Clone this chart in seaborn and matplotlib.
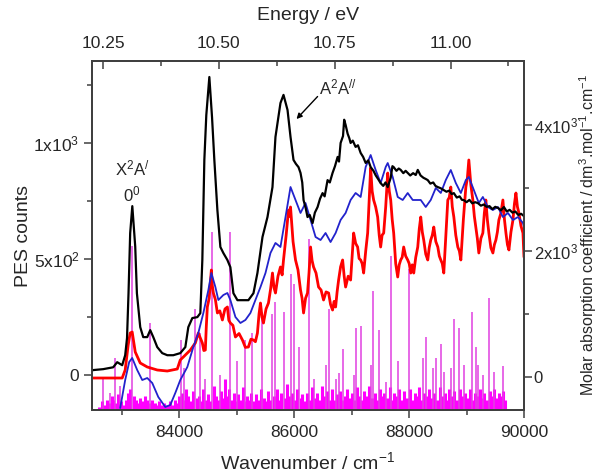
import matplotlib
matplotlib.use("Agg")
import matplotlib.pyplot as plt
import seaborn as sns
import pandas as pd

# Photoelectron spectrum (left axis, counts)
pes_wn = [82483, 82500, 82675, 82849, 82919, 83006, 83058, 83090, 83116, 83145, 83182, 83233, 83262,
          83320, 83372, 83442, 83494, 83547, 83616, 83703, 83791, 83895, 84017, 84105, 84157, 84227,
          84314, 84366, 84401, 84436, 84470, 84523, 84570, 84610, 84663, 84715, 84767, 84837, 84889,
          84942, 85012, 85099, 85203, 85291, 85360, 85448, 85535, 85622, 85674, 85761, 85814, 85884,
          85936, 85988, 86030, 86075, 86110, 86140, 86163, 86200, 86232, 86270, 86320, 86360, 86407,
          86450, 86494, 86530, 86581, 86620, 86668, 86710, 86756, 86780, 86808, 86850, 86870, 86895,
          86930, 86960, 86982, 87020, 87069, 87110, 87157, 87200, 87244, 87290, 87331, 87380, 87420,
          87460, 87505, 87550, 87590, 87628, 87680, 87710, 87732, 87780, 87820, 87854, 87900, 87940,
          87976, 88020, 88070, 88116, 88151, 88200, 88250, 88290, 88325, 88370, 88420, 88460, 88500,
          88550, 88604, 88650, 88700, 88740, 88779, 88830, 88880, 88920, 88953, 89000, 89050, 89100,
          89150, 89197, 89250, 89300, 89350, 89400, 89450, 89500, 89550, 89600, 89651, 89700, 89750,
          89800, 89850, 89900, 89950, 90000]
pes_counts = [20, 22, 26, 34, 56, 43, 86, 160, 353, 612, 728, 553, 353,
              207, 164, 164, 194, 164, 121, 95, 86, 86, 95, 121, 207, 246,
              250, 267, 496, 927, 1120, 1284, 1110, 927, 711, 552, 526, 496, 465,
              353, 323, 323, 323, 353, 440, 595, 681, 810, 1026, 1172, 1207, 1142,
              1026, 927, 910, 896, 871, 830, 754, 720, 681, 690, 655, 700, 724,
              760, 784, 770, 840, 830, 871, 900, 940, 920, 1000, 1030, 1100, 1078,
              1040, 1020, 1000, 1010, 983, 990, 957, 940, 914, 925, 896, 880, 860,
              845, 827, 815, 830, 810, 850, 900, 896, 880, 890, 884, 870, 880,
              871, 860, 870, 862, 884, 860, 850, 845, 840, 825, 830, 815, 810,
              805, 797, 790, 795, 780, 784, 765, 770, 755, 754, 745, 755, 740,
              745, 741, 730, 735, 725, 728, 715, 725, 720, 710, 724, 705, 712,
              700, 705, 690, 695, 685]

# Measured absorption spectrum (right axis)
abs_wn = [82483, 83006, 83058, 83110, 83145, 83180, 83233, 83320, 83442, 83616, 83791, 83965, 84017,
          84070, 84192, 84279, 84331, 84401, 84427, 84453, 84470, 84488, 84520, 84558, 84575, 84593,
          84628, 84663, 84705, 84750, 84795, 84837, 84862, 84889, 84933, 84977, 85040, 85099, 85150,
          85203, 85247, 85291, 85325, 85360, 85388, 85413, 85440, 85465, 85510, 85552, 85590, 85622,
          85648, 85674, 85718, 85761, 85790, 85814, 85860, 85901, 85918, 85936, 85980, 86023, 86066,
          86110, 86137, 86163, 86198, 86232, 86258, 86285, 86311, 86337, 86380, 86424, 86468, 86511,
          86555, 86599, 86633, 86668, 86695, 86721, 86747, 86773, 86808, 86843, 86870, 86895, 86940,
          86982, 87008, 87035, 87070, 87104, 87130, 87157, 87183, 87209, 87245, 87279, 87305, 87331,
          87357, 87383, 87418, 87453, 87480, 87505, 87530, 87558, 87593, 87628, 87655, 87680, 87706,
          87732, 87767, 87802, 87828, 87854, 87880, 87906, 87940, 87976, 88002, 88029, 88055, 88081,
          88116, 88151, 88177, 88203, 88230, 88255, 88290, 88325, 88350, 88377, 88404, 88430, 88465,
          88500, 88526, 88552, 88578, 88604, 88640, 88674, 88700, 88726, 88752, 88779, 88813, 88848,
          88875, 88901, 88945, 88988, 89014, 89040, 89075, 89110, 89136, 89162, 89188, 89214, 89250,
          89284, 89310, 89336, 89362, 89389, 89424, 89459, 89485, 89511, 89537, 89563, 89598, 89633,
          89660, 89686, 89712, 89738, 89773, 89808, 89834, 89860, 89886, 89912, 89947, 89982, 90000]
abs_eps = [-16, -16, 111, 508, 698, 714, 397, 222, 159, 111, 95, 127, 270,
           317, 428, 540, 698, 540, 420, 428, 800, 1111, 1250, 1698, 1450, 1333,
           1230, 1016, 1050, 905, 1080, 1111, 900, 857, 820, 635, 690, 587, 470,
           476, 600, 587, 560, 698, 1000, 1174, 950, 857, 1080, 1174, 1400, 1650,
           1420, 1333, 1600, 1746, 1620, 1857, 2250, 2650, 2550, 2698, 2150, 1857, 1700,
           1381, 1250, 1016, 1250, 1333, 1650, 2063, 1850, 1746, 1650, 1428, 1380, 1222,
           1350, 1333, 1150, 1063, 1200, 1111, 1350, 1539, 1750, 1857, 1600, 1428, 1600,
           1539, 1900, 2285, 2120, 2063, 1880, 1857, 1800, 1650, 2000, 2285, 2800, 3317,
           2950, 2809, 2700, 2539, 2250, 2063, 2250, 2285, 2700, 3237, 2950, 2809, 2500,
           2285, 1800, 1587, 1780, 1857, 1900, 2063, 1920, 1857, 1800, 1650, 1780, 1650,
           1900, 2063, 2350, 2539, 2300, 2174, 1950, 1857, 2050, 2174, 2250, 2380, 2150,
           2063, 1920, 1857, 1800, 1650, 2250, 2809, 2850, 3015, 2700, 2539, 2250, 2063,
           2000, 1857, 2500, 3015, 3150, 3444, 3050, 2809, 2550, 2380, 2200, 1968, 2200,
           2285, 2600, 2809, 2500, 2285, 2050, 1968, 2100, 2174, 2300, 2492, 2600, 2809,
           2500, 2285, 2100, 2016, 2300, 2492, 2750, 2920, 2700, 2603, 2400, 2285, 1904]

# Simulated absorption envelope (right axis)
sim_wn = [82971, 83058, 83128, 83180, 83267, 83355, 83442, 83529, 83634, 83756, 83843, 83930, 84017,
          84140, 84244, 84331, 84419, 84506, 84558, 84628, 84680, 84767, 84837, 84889, 84977, 85064,
          85151, 85238, 85325, 85413, 85500, 85587, 85674, 85761, 85849, 85936, 86023, 86110, 86197,
          86285, 86372, 86459, 86546, 86633, 86721, 86808, 86895, 86982, 87069, 87157, 87244, 87331,
          87418, 87505, 87593, 87628, 87715, 87802, 87889, 87976, 88063, 88203, 88290, 88377, 88465,
          88552, 88639, 88726, 88813, 88901, 88988, 89040, 89127, 89214, 89284, 89371, 89459, 89546,
          89633, 89721, 89808, 89895, 89982, 90000]
sim_eps = [-492, -48, 238, 302, 111, -48, -16, -95, -317, -476, -444, -254, -48,
           159, 476, 698, 1016, 1381, 1650, 1428, 1222, 1301, 1333, 1222, 952, 857,
           905, 1016, 1222, 1428, 1650, 1968, 2127, 2063, 2539, 3015, 2809, 2603, 2761,
           2492, 2222, 2174, 2285, 2142, 2285, 2492, 2603, 2809, 2920, 2857, 3333, 3523,
           3285, 3079, 3333, 3396, 3174, 2857, 2809, 2920, 2809, 2809, 2698, 2809, 3000,
           2920, 3126, 3285, 3079, 2920, 3126, 3174, 2968, 2761, 2857, 2698, 2650, 2698,
           2539, 2603, 2492, 2539, 2444, 2380]

# Franck-Condon stick spectrum: strong transitions (relative intensity)
stick_wn = [82675, 82790, 82884, 82960, 83180, 83494, 84030, 84090, 84270, 84366, 84450, 84576,
            84700, 84880, 85012, 85151, 85273, 85448, 85622, 85674, 85814, 85936, 85988, 86085,
            86260, 86337, 86546, 86599, 86721, 86773, 86843, 87035, 87070, 87157, 87331, 87366,
            87471, 87593, 87680, 87802, 87994, 88238, 88290, 88412, 88465, 88552, 88604, 88726,
            88779, 88866, 88953, 89092, 89162, 89197, 89284, 89389, 89476, 89633]
stick_int = [9, 5, 15, 7, 47, 25, 20, 12, 29, 22, 9, 51,
             10, 51, 14, 20, 22, 28, 27.5, 31, 28, 39, 36, 18,
             49, 9, 13, 29, 9, 10.6, 17.5, 10, 23.6, 24, 13, 34,
             23, 8, 44, 14, 40.5, 15, 21, 12, 15, 19, 11, 12,
             26, 23.5, 13, 28, 18, 13, 10, 32, 11, 12.6]

# Franck-Condon stick spectrum: weak transitions
weak_wn = [82610, 82650, 82700, 82740, 82780, 82820, 82850, 82900, 82940, 82980, 83020, 83080,
           83110, 83150, 83210, 83250, 83280, 83320, 83360, 83400, 83440, 83470, 83530, 83570,
           83610, 83650, 83700, 83740, 83790, 83830, 83880, 83920, 83960, 84000,
           84040, 84080, 84120, 84160, 84200, 84230, 84300, 84340, 84380, 84420, 84460, 84500,
           84540, 84610, 84640, 84680, 84720, 84760, 84790, 84830, 84860, 84920, 84950, 84990,
           85030, 85070, 85110, 85140, 85180, 85220, 85250, 85300, 85330, 85390, 85420, 85480,
           85510, 85550, 85580, 85650, 85700, 85730, 85770, 85840, 85870, 85910, 85960, 86010,
           86050, 86110, 86140, 86180, 86220, 86270, 86310, 86360, 86400, 86440, 86480, 86520,
           86570, 86620, 86650, 86690, 86740, 86800, 86830, 86880, 86920, 86960, 87000, 87050,
           87090, 87130, 87180, 87220, 87260, 87300, 87350, 87400, 87440, 87490, 87530, 87570,
           87620, 87660, 87700, 87740, 87780, 87830, 87870, 87920, 87960, 88010, 88060, 88100,
           88140, 88180, 88220, 88260, 88310, 88350, 88400, 88440, 88490, 88530, 88580, 88620,
           88660, 88700, 88750, 88790, 88830, 88880, 88920, 88970, 89010, 89060, 89100, 89140,
           89190, 89230, 89270, 89310, 89350, 89400, 89440, 89480, 89520, 89560, 89600, 89640,
           89670]
weak_int = [1.0, 2.5, 1.5, 3.0, 2.0, 4.0, 3.0, 2.0, 4.5, 2.5, 1.5, 3.0,
            5.0, 6.0, 4.0, 3.0, 2.0, 3.5, 2.5, 4.0, 3.0, 2.0, 3.0, 2.0,
            1.5, 2.5, 1.5, 2.0, 1.5, 2.5, 1.5, 3.0, 2.0, 4.0,
            5.0, 3.0, 6.0, 4.0, 2.5, 5.5, 3.5, 4.0, 2.5, 6.0, 3.0, 4.5,
            2.5, 7.0, 4.0, 3.0, 5.5, 3.5, 9.0, 4.0, 6.0, 3.0, 5.0, 2.5,
            4.5, 3.0, 6.5, 2.5, 4.0, 3.0, 5.0, 2.5, 4.5, 3.0, 6.0, 3.5,
            2.5, 5.5, 3.0, 4.0, 6.0, 3.0, 5.0, 3.5, 7.5, 4.0, 5.0, 3.0,
            6.0, 3.5, 4.5, 2.5, 5.0, 3.0, 6.5, 3.5, 5.0, 3.0, 7.0, 4.0,
            5.5, 3.0, 6.0, 3.0, 4.5, 5.5, 3.0, 4.0, 6.0, 3.5, 5.0, 3.0,
            6.5, 4.0, 3.0, 5.5, 4.0, 7.0, 3.5, 5.0, 3.0, 6.0, 4.0, 5.0,
            3.5, 6.5, 3.0, 5.0, 4.0, 6.0, 3.0, 5.5, 3.5, 6.0, 3.0, 5.0,
            4.0, 6.5, 3.0, 5.0, 4.0, 6.0, 3.5, 5.0, 3.0, 6.5, 4.0, 5.0,
            3.0, 6.0, 4.0, 5.5, 3.0, 6.0, 4.0, 5.0, 3.5, 6.0, 3.0, 5.0,
            4.0, 6.0, 3.5, 5.0, 3.0, 5.5, 4.0, 6.0, 3.5, 5.0, 4.0, 5.5,
            3.0]

# Axis ticks
wn_major = [84000, 86000, 88000, 90000]
wn_minor = [83000, 85000, 87000, 89000]
ev_major = [10.25, 10.50, 10.75, 11.00]
ev_minor = [10.375, 10.625, 10.875, 11.125]
pes_major = [0, 500, 1000]
pes_major_labels = ["0", "5x10$^2$", "1x10$^3$"]
pes_minor = [250, 750, 1250]
eps_major = [0, 2000, 4000]
eps_major_labels = ["0", "2x10$^3$", "4x10$^3$"]
eps_minor = [1000, 3000]

CM_PER_EV = 8065.54

sns.set_theme(style="ticks")
plt.rcParams["font.family"] = ["Liberation Sans", "DejaVu Sans"]
plt.rcParams["mathtext.fontset"] = "custom"
plt.rcParams["mathtext.rm"] = "Liberation Sans"
plt.rcParams["mathtext.it"] = "Liberation Sans:italic"
plt.rcParams["mathtext.bf"] = "Liberation Sans:bold"

fig = plt.figure(figsize=(6.0, 4.75), dpi=100)
ax = fig.add_axes([0.1533, 0.1368, 0.72, 0.7348])
ax_fc = ax.twinx()
ax_eps = ax.twinx()

ax_fc.set_zorder(1)
ax_eps.set_zorder(2)
ax.set_zorder(3)
ax.patch.set_visible(False)
ax_fc.patch.set_visible(False)
ax_eps.patch.set_visible(False)

# stick spectrum
ax_fc.vlines(weak_wn, 0, weak_int, color="#ff00ff", lw=2.2)
ax_fc.vlines(stick_wn, 0, stick_int, color="#e040e0", lw=1.1)
ax_fc.set_ylim(0, 100)
ax_fc.set_yticks([])
ax_fc.tick_params(right=False, labelright=False)

# absorption spectra
abs_df = pd.DataFrame({"wn": abs_wn, "eps": abs_eps})
sim_df = pd.DataFrame({"wn": sim_wn, "eps": sim_eps})
sns.lineplot(data=abs_df, x="wn", y="eps", ax=ax_eps, color="#ff0000", lw=2.0,
             sort=False, estimator=None)
sns.lineplot(data=sim_df, x="wn", y="eps", ax=ax_eps, color="#2222cc", lw=1.3,
             sort=False, estimator=None)
ax_eps.set_ylim(-524, 5015)

# photoelectron spectrum
pes_df = pd.DataFrame({"wn": pes_wn, "counts": pes_counts})
sns.lineplot(data=pes_df, x="wn", y="counts", ax=ax, color="black", lw=1.6,
             sort=False, estimator=None)
ax.set_xlim(82480, 90000)
ax.set_ylim(-150, 1353)

spine_col = "#404040"
for a in (ax, ax_fc, ax_eps):
    for s in a.spines.values():
        s.set_color(spine_col)
        s.set_linewidth(1.2)

ax.set_xticks(wn_major)
ax.set_xticklabels([str(v) for v in wn_major])
ax.set_xticks(wn_minor, minor=True)
ax.set_yticks(pes_major)
ax.set_yticklabels(pes_major_labels)
ax.set_yticks(pes_minor, minor=True)
ax.tick_params(axis="both", which="major", direction="out", length=6, width=1.1,
               color=spine_col, labelsize=12.5, pad=3)
ax.tick_params(axis="both", which="minor", direction="out", length=3.5, width=1.1,
               color=spine_col)
ax.tick_params(axis="x", which="major", pad=5)
ax.tick_params(top=False, which="both")

ax_eps.set_yticks(eps_major)
ax_eps.set_yticklabels(eps_major_labels)
ax_eps.set_yticks(eps_minor, minor=True)
ax_eps.tick_params(axis="y", which="major", direction="out", length=6, width=1.1,
                   color=spine_col, labelsize=12, pad=1)
ax_eps.tick_params(axis="y", which="minor", direction="out", length=3.5, width=1.1,
                   color=spine_col)

ax.set_xlabel("Wavenumber / cm$^{-1}$", fontsize=14, labelpad=8)
ax.set_ylabel("PES counts", fontsize=14, labelpad=1)
ax_eps.set_ylabel("Molar absorption coefficient / dm$^3$.mol$^{-1}$.cm$^{-1}$",
                  fontsize=11.5)
ax_eps.yaxis.set_label_coords(1.1245, 0.5)

# energy scale on top
sec = ax.secondary_xaxis("top", functions=(lambda w: w / CM_PER_EV,
                                           lambda e: e * CM_PER_EV))
sec.set_xticks(ev_major)
sec.set_xticklabels([f"{v:.2f}" for v in ev_major])
sec.set_xticks(ev_minor, minor=True)
sec.tick_params(axis="x", which="major", direction="in", length=6, width=1.1,
                color=spine_col, labelsize=12.5, pad=7)
sec.tick_params(axis="x", which="minor", direction="in", length=3.5, width=1.1,
                color=spine_col)
sec.spines["top"].set_color(spine_col)
sec.spines["top"].set_linewidth(1.2)
sec.set_xlabel("Energy / eV", fontsize=14, labelpad=12)

# band labels
ax.text(83180, 892, "X$^2$A$^{/}$", ha="center", va="center", fontsize=12)
ax.text(83180, 780, "0$^0$", ha="center", va="center", fontsize=12)
ax.annotate("", xy=(86040, 1103), xytext=(86407, 1200),
            arrowprops=dict(arrowstyle="-|>", color="black", lw=1.0, mutation_scale=8,
                            shrinkA=0, shrinkB=0))
ax.text(86440, 1237, "A$^2$A$^{//}$", ha="left", va="center", fontsize=12)

fig.savefig("out.png", dpi=100)
